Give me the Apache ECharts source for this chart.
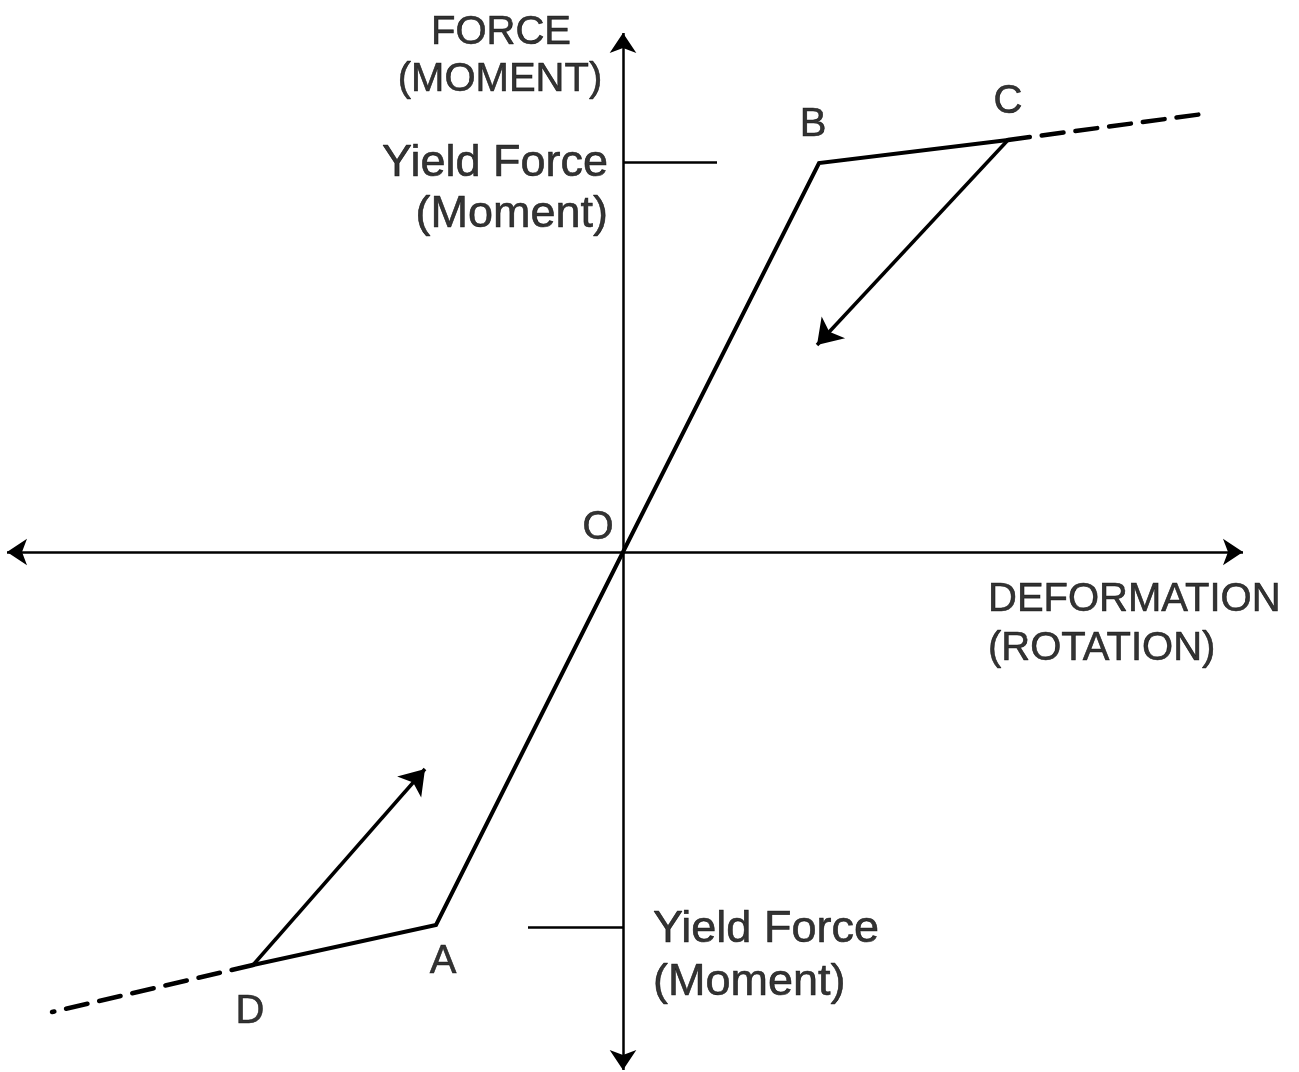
<!DOCTYPE html>
<html>
<head>
<meta charset="utf-8">
<script src="https://cdn.jsdelivr.net/npm/echarts@6/dist/echarts.min.js"></script>
<style>
html,body{margin:0;padding:0;background:#fff;}
#chart{width:1299px;height:1072px;}
</style>
</head>
<body>
<div id="chart"></div>
<script>
// ---- Data (arbitrary units) ----
var origin = [0, 0];
var pointB = [1.96, 3.89];
var pointC = [3.85, 4.12];
var pointA = [-1.87, -3.73];
var pointD = [-3.70, -4.13];
var dashEndRight = [5.80, 4.38];
var dashEndLeft = [-5.71, -4.60];
var unloadArrowEnd = [1.94, 2.07];
var reloadArrowEnd = [-1.98, -2.17];
var yieldTickTop = [[0, 3.90], [0.94, 3.90]];
var yieldTickBottom = [[-0.95, -3.75], [0, -3.75]];
var xAxisEnds = [[-6.16, 0], [6.20, 0]];
var yAxisEnds = [[0, 5.19], [0, -5.18]];
var pointNames = ['O', 'A', 'B', 'C', 'D'];
var axisTitles = ['FORCE', '(MOMENT)', 'DEFORMATION', '(ROTATION)'];
var yieldLabels = ['Yield Force', '(Moment)'];

var FONT = "'Liberation Sans', Arial, sans-serif";
var FS_CAPS = 40;
var FS_MIXED = 45;

function txt(pos, text, align, size) {
  return {
    value: pos,
    label: {
      show: true, formatter: text, align: align || 'center', verticalAlign: 'middle',
      color: '#000', fontFamily: FONT, fontSize: size || FS_CAPS,
      textBorderColor: '#000', textBorderWidth: 0.6
    }
  };
}

var labelData = [
  txt([-1.22, 5.19], axisTitles[0]),
  txt([-1.23, 4.72], axisTitles[1]),
  txt([3.65, -0.48], axisTitles[2], 'left'),
  txt([3.65, -0.97], axisTitles[3], 'left'),
  txt([-0.15, 3.88], yieldLabels[0], 'right', FS_MIXED),
  txt([-0.15, 3.37], yieldLabels[1], 'right', FS_MIXED),
  txt([0.30, -3.78], yieldLabels[0], 'left', FS_MIXED),
  txt([0.30, -4.31], yieldLabels[1], 'left', FS_MIXED),
  txt([-0.25, 0.24], pointNames[0]),
  txt([-1.80, -4.10], pointNames[1]),
  txt([1.90, 4.27], pointNames[2]),
  txt([3.85, 4.50], pointNames[3]),
  txt([-3.73, -4.60], pointNames[4])
];

var chart = echarts.init(document.getElementById('chart'), null, { renderer: 'canvas' });
var option = {
  backgroundColor: '#ffffff',
  animation: false,
  grid: { left: 0, right: 0, top: 0, bottom: 0 },
  xAxis: { type: 'value', min: -6.23, max: 6.76, show: false },
  yAxis: { type: 'value', min: -5.20, max: 5.52, show: false },
  series: [
    {
      name: 'axes', type: 'lines', coordinateSystem: 'cartesian2d',
      symbol: ['none', 'arrow'], symbolSize: 20,
      lineStyle: { color: '#000', width: 2.5, opacity: 1 },
      data: [
        { coords: [origin, xAxisEnds[0]] },
        { coords: [origin, xAxisEnds[1]] },
        { coords: [origin, yAxisEnds[0]] },
        { coords: [origin, yAxisEnds[1]] }
      ]
    },
    {
      name: 'ticks', type: 'lines', coordinateSystem: 'cartesian2d',
      symbol: 'none',
      lineStyle: { color: '#000', width: 2.5, opacity: 1 },
      data: [{ coords: yieldTickTop }, { coords: yieldTickBottom }]
    },
    {
      name: 'path', type: 'lines', coordinateSystem: 'cartesian2d', polyline: true,
      symbol: 'none',
      lineStyle: { color: '#000', width: 4, opacity: 1, join: 'miter', cap: 'round' },
      data: [{ coords: [pointD, pointA, origin, pointB, pointC] }]
    },
    {
      name: 'dashed', type: 'lines', coordinateSystem: 'cartesian2d',
      symbol: 'none',
      lineStyle: { color: '#000', width: 4.5, opacity: 1, type: [22, 12], cap: 'round' },
      data: [{ coords: [pointC, dashEndRight] }, { coords: [pointD, dashEndLeft] }]
    },
    {
      name: 'arrows', type: 'lines', coordinateSystem: 'cartesian2d',
      symbol: ['none', 'arrow'], symbolSize: 24,
      lineStyle: { color: '#000', width: 3.5, opacity: 1 },
      data: [{ coords: [pointC, unloadArrowEnd] }, { coords: [pointD, reloadArrowEnd] }]
    },
    {
      name: 'labels', type: 'scatter', symbolSize: 0,
      label: { show: true, color: '#000', fontFamily: FONT, fontSize: FS_CAPS },
      data: labelData
    }
  ]
};
chart.setOption(option);
</script>
</body>
</html>
